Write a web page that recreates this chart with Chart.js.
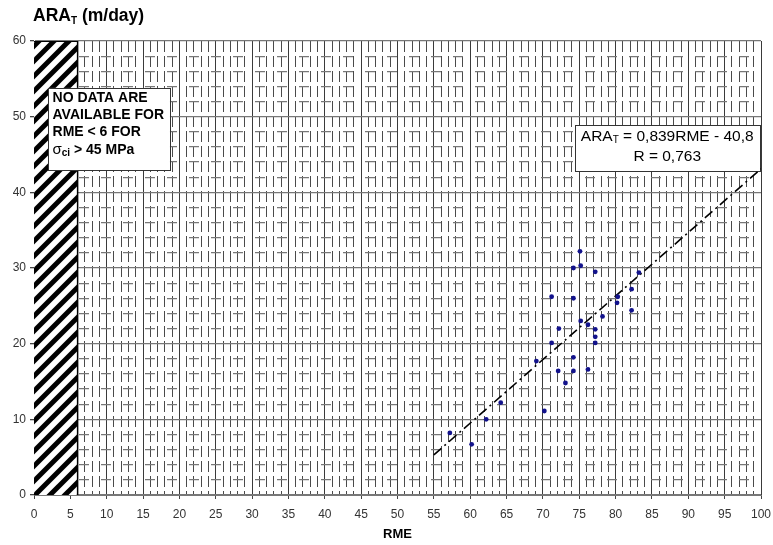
<!DOCTYPE html>
<html><head><meta charset="utf-8">
<script src="https://cdn.jsdelivr.net/npm/chart.js@4.4.1/dist/chart.umd.min.js"></script>
<style>html,body{margin:0;padding:0;background:#fff;}#wrap{width:773px;height:545px;position:relative;}</style>
</head><body><div id="wrap"><canvas id="c" width="773" height="545"></canvas></div>
<script>
// ---- data ----
const rmeValues = [57.2, 60.2, 62.2, 64.2, 69.1, 70.2, 71.2, 71.2, 72.1, 72.2, 73.1, 74.2, 74.2, 74.2, 74.2, 75.1, 75.2, 75.2, 76.2, 76.2, 77.2, 77.2, 77.2, 77.2, 78.2, 80.2, 80.3, 82.2, 82.2, 83.2];
const araValues = [8.2, 6.7, 10.0, 12.2, 17.7, 11.1, 20.1, 26.2, 16.4, 22.0, 14.8, 16.4, 18.2, 26.0, 30.0, 32.2, 30.3, 23.0, 22.5, 16.6, 20.1, 20.9, 21.9, 29.5, 23.6, 25.4, 26.2, 24.4, 27.2, 29.4];
const trendRme = [55, 100];
const trendAra = [5.3, 43.1];
const xTickLabels = [0,5,10,15,20,25,30,35,40,45,50,55,60,65,70,75,80,85,90,95,100];
const yTickLabels = [0,10,20,30,40,50,60];
const noDataLimit = 6;

const FONT = "'Liberation Sans', Arial, sans-serif";
Chart.defaults.font.family = FONT;

const points = rmeValues.map((v, i) => ({x: v, y: araValues[i]}));
const trend = trendRme.map((v, i) => ({x: v, y: trendAra[i]}));

const isMajorX = v => v % 5 === 0;
const isMajorY = v => v % 10 === 0;

const decor = {
  id: 'decor',
  beforeDatasetsDraw(chart) {
    const {ctx, scales: {x, y}} = chart;
    // hatched "no data" region
    const x0 = x.getPixelForValue(0), x1 = x.getPixelForValue(noDataLimit);
    const yT = y.getPixelForValue(60), yB = y.getPixelForValue(0);
    ctx.save();
    ctx.beginPath(); ctx.rect(x0, yT, x1 - x0, yB - yT); ctx.clip();
    ctx.fillStyle = '#fff'; ctx.fillRect(x0, yT, x1 - x0, yB - yT);
    ctx.strokeStyle = '#000'; ctx.lineWidth = 5;
    const W = x1 - x0;
    for (let yy = yT - 10; yy < yB + W + 20; yy += 15) {
      ctx.beginPath(); ctx.moveTo(x0 - 5, yy + 5); ctx.lineTo(x1 + 5, yy - W - 5); ctx.stroke();
    }
    ctx.restore();
    ctx.save();
    ctx.strokeStyle = '#000'; ctx.lineWidth = 1.5;
    ctx.beginPath(); ctx.moveTo(x1, yT); ctx.lineTo(x1, yB); ctx.stroke();
    ctx.lineWidth = 1;
    ctx.beginPath(); ctx.moveTo(x0, yT + 0.5); ctx.lineTo(x1, yT + 0.5); ctx.stroke();
    ctx.restore();

    // note box
    drawBox(ctx, x.getPixelForValue(1.93), y.getPixelForValue(53.8), x.getPixelForValue(18.7), y.getPixelForValue(42.9));
    ctx.save();
    ctx.fillStyle = '#000'; ctx.textBaseline = 'middle'; ctx.textAlign = 'left';
    ctx.font = 'bold 14px ' + FONT;
    const tx = x.getPixelForValue(1.93) + 4.5;
    const by = y.getPixelForValue(53.8);
    ctx.fillText('NO DATA ARE', tx, by + 10);
    ctx.fillText('AVAILABLE FOR', tx, by + 27);
    ctx.fillText('RME < 6 FOR', tx, by + 44.5);
    let cx = tx;
    ctx.font = '15px ' + FONT;
    ctx.fillText('σ', cx, by + 62); cx += ctx.measureText('σ').width;
    ctx.font = 'bold 10px ' + FONT;
    ctx.fillText('ci', cx, by + 65.5); cx += ctx.measureText('ci').width;
    ctx.font = 'bold 14px ' + FONT;
    ctx.fillText(' > 45 MPa', cx, by + 62);
    ctx.restore();

    // equation box
    const bl = x.getPixelForValue(74.4), bt = y.getPixelForValue(48.9), br = x.getPixelForValue(99.8), bb = y.getPixelForValue(42.8);
    drawBox(ctx, bl, bt, br, bb);
    ctx.save();
    ctx.fillStyle = '#000'; ctx.textBaseline = 'middle';
    const mid = (bl + br) / 2;
    ctx.font = '15.5px ' + FONT;
    const p1 = 'ARA', p3 = ' = 0,839RME - 40,8';
    const w1 = ctx.measureText(p1).width, w3 = ctx.measureText(p3).width;
    ctx.font = '10px ' + FONT;
    const w2 = ctx.measureText('T').width;
    let sx = mid - (w1 + w2 + w3) / 2;
    ctx.textAlign = 'left';
    ctx.font = '15.5px ' + FONT; ctx.fillText(p1, sx, bt + 11.5); sx += w1;
    ctx.font = '10px ' + FONT; ctx.fillText('T', sx, bt + 15); sx += w2;
    ctx.font = '15.5px ' + FONT; ctx.fillText(p3, sx, bt + 11.5);
    ctx.textAlign = 'center';
    ctx.fillText('R = 0,763', mid, bt + 31.5);
    ctx.restore();
  },
  afterDraw(chart) {
    const {ctx} = chart;
    ctx.save();
    ctx.fillStyle = '#000'; ctx.textBaseline = 'alphabetic'; ctx.textAlign = 'left';
    let tx = 33;
    ctx.font = 'bold 17.5px ' + FONT; ctx.fillText('ARA', tx, 21); tx += ctx.measureText('ARA').width;
    ctx.font = 'bold 10px ' + FONT; ctx.fillText('T', tx, 23.5); tx += ctx.measureText('T').width;
    ctx.font = 'bold 17.5px ' + FONT; ctx.fillText(' (m/day)', tx, 21);
    ctx.restore();
  }
};

function drawBox(ctx, l, t, r, b) {
  ctx.save();
  ctx.fillStyle = '#fff';
  ctx.fillRect(l, t, r - l, b - t);
  ctx.strokeStyle = '#333'; ctx.lineWidth = 1;
  ctx.strokeRect(Math.round(l) + 0.5, Math.round(t) + 0.5, Math.round(r - l), Math.round(b - t));
  ctx.restore();
}

new Chart(document.getElementById('c'), {
  type: 'scatter',
  data: {
    datasets: [
      {data: points, backgroundColor: '#12128c', borderWidth: 0, pointRadius: 2.4, pointHoverRadius: 2.4},
      {data: trend, showLine: true, borderColor: '#000', borderWidth: 1.6, borderDash: [10, 4, 2, 4], pointRadius: 0, fill: false}
    ]
  },
  options: {
    responsive: false, animation: false,
    layout: {padding: {top: 41, right: 12, left: 0, bottom: 0}},
    plugins: {legend: {display: false}, tooltip: {enabled: false}, title: {display: false}},
    scales: {
      x: {
        type: 'linear', min: 0, max: 100,
        afterFit: s => { s.height = 50; s.paddingLeft = 0; s.paddingRight = 0; },
        ticks: {
          stepSize: 1, autoSkip: false, maxRotation: 0, padding: 8,
          color: '#333', font: {size: 12},
          callback: v => xTickLabels.includes(v) ? String(v) : ''
        },
        grid: {
          color: c => (c.tick && isMajorX(c.tick.value)) ? '#3a3a3a' : '#4a4a4a',
          lineWidth: 1,
          tickLength: 4,
          tickColor: c => (c.tick && isMajorX(c.tick.value)) ? '#444' : 'rgba(0,0,0,0)'
        },
        border: {display: true, color: '#777', dash: c => (c.tick && !isMajorX(c.tick.value)) ? [11, 4] : []},
        title: {display: true, text: 'RME', color: '#000', font: {size: 13, weight: 'bold'}, padding: {top: 0, bottom: 3}}
      },
      y: {
        type: 'linear', min: 0, max: 60,
        afterFit: s => { s.width = 34; },
        ticks: {
          stepSize: 2, autoSkip: false, padding: 4,
          color: '#333', font: {size: 12},
          callback: v => yTickLabels.includes(v) ? String(v) : ''
        },
        grid: {
          color: c => (c.tick && isMajorY(c.tick.value)) ? '#777' : '#777',
          lineWidth: c => (c.tick && isMajorY(c.tick.value)) ? 1.3 : 1.2,
          tickLength: 4,
          tickColor: c => (c.tick && isMajorY(c.tick.value)) ? '#444' : 'rgba(0,0,0,0)'
        },
        border: {display: true, color: '#444', dash: c => (c.tick && !isMajorY(c.tick.value)) ? [10, 12] : []}
      }
    }
  },
  plugins: [decor]
});
</script></body></html>
